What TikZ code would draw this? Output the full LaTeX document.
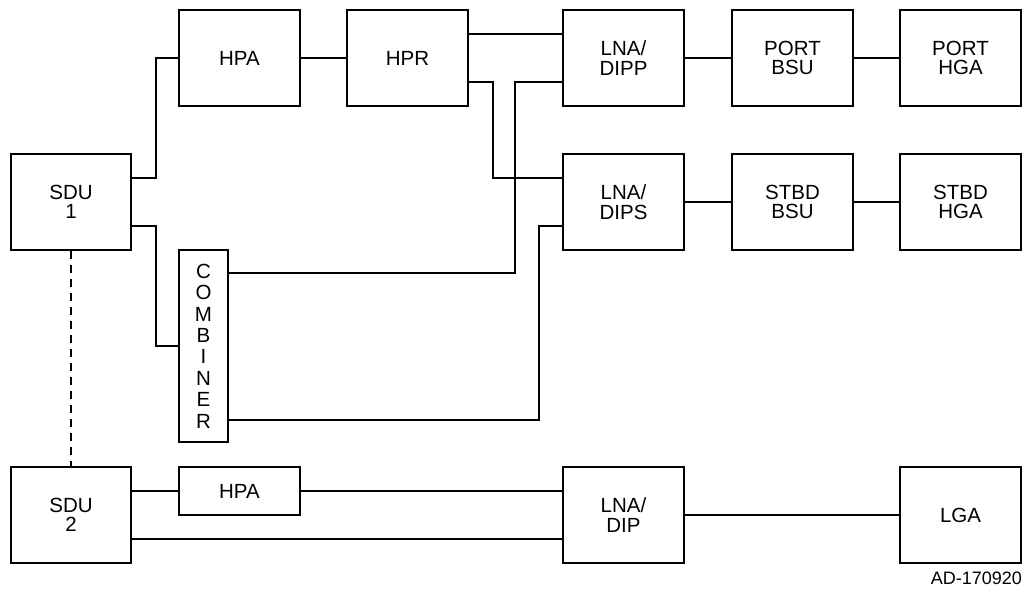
\documentclass[tikz,border=0pt]{standalone}
\usepackage{fontspec}
\setmainfont{Liberation Sans}
\begin{document}
\begin{tikzpicture}[x=1pt,y=-1pt,line width=2pt,
  blk/.style={draw,rectangle,minimum width=121pt,minimum height=96pt,inner sep=0pt,align=center,
    font=\fontsize{20.5pt}{19.5pt}\selectfont},
  conn/.style={draw,line cap=rect}]
\useasboundingbox (0,0) rectangle (1025,592);
\node[blk] (HPA) at (239.5,58) {HPA};
\node[blk] (HPR) at (407.5,58) {HPR};
\node[blk] (LNAP) at (623.5,58) {LNA/\\DIPP};
\node[blk] (PBSU) at (792.5,58) {PORT\\BSU};
\node[blk] (PHGA) at (960.5,58) {PORT\\HGA};
\node[blk,minimum width=120pt] (SDU1) at (71,202) {SDU\\1};
\node[blk] (LNAS) at (623.5,202) {LNA/\\DIPS};
\node[blk] (SBSU) at (792.5,202) {STBD\\BSU};
\node[blk] (SHGA) at (960.5,202) {STBD\\HGA};
\node[blk,minimum width=49pt,minimum height=192pt,font=\fontsize{20.5pt}{21.4pt}\selectfont] (COMB) at (203.5,346) {C\\O\\M\\B\\I\\N\\E\\R};
\node[blk,minimum width=120pt] (SDU2) at (71,515) {SDU\\2};
\node[blk,minimum height=48pt] (HPA2) at (239.5,491) {HPA};
\node[blk] (LNAD) at (623.5,515) {LNA/\\DIP};
\node[blk] (LGA) at (960.5,515) {LGA};
\node[anchor=east,inner sep=0pt,font=\fontsize{18pt}{20pt}\selectfont] (AD) at (1023,578) {AD-170920};

\draw ([yshift=24pt]SDU1.east) -- ++(24,0) |- (HPA.west);
\draw ([yshift=-24pt]SDU1.east) -- ++(24,0) |- (COMB.west);
\draw (HPA) -- (HPR);
\draw ([yshift=24pt]HPR.east) -- ([yshift=24pt]LNAP.west);
\draw ([yshift=-24pt]HPR.east) -- ++(24,0) |- ([yshift=24pt]LNAS.west);
\draw ([yshift=-24pt]COMB.north east) -| ([xshift=-47pt,yshift=-24pt]LNAP.west) -- ([yshift=-24pt]LNAP.west);
\draw ([yshift=23pt]COMB.south east) -| ([xshift=-23pt,yshift=-24pt]LNAS.west) -- ([yshift=-24pt]LNAS.west);
\draw (LNAP) -- (PBSU);
\draw (PBSU) -- (PHGA);
\draw (LNAS) -- (SBSU);
\draw (SBSU) -- (SHGA);
\draw[dash pattern=on 8pt off 6pt] (SDU1.south) -- (SDU2.north);
\draw ([yshift=24pt]SDU2.east) -- (HPA2.west);
\draw (HPA2.east) -- ([yshift=24pt]LNAD.west);
\draw ([yshift=-24pt]SDU2.east) -- ([yshift=-24pt]LNAD.west);
\draw (LNAD) -- (LGA);
\end{tikzpicture}
\end{document}
